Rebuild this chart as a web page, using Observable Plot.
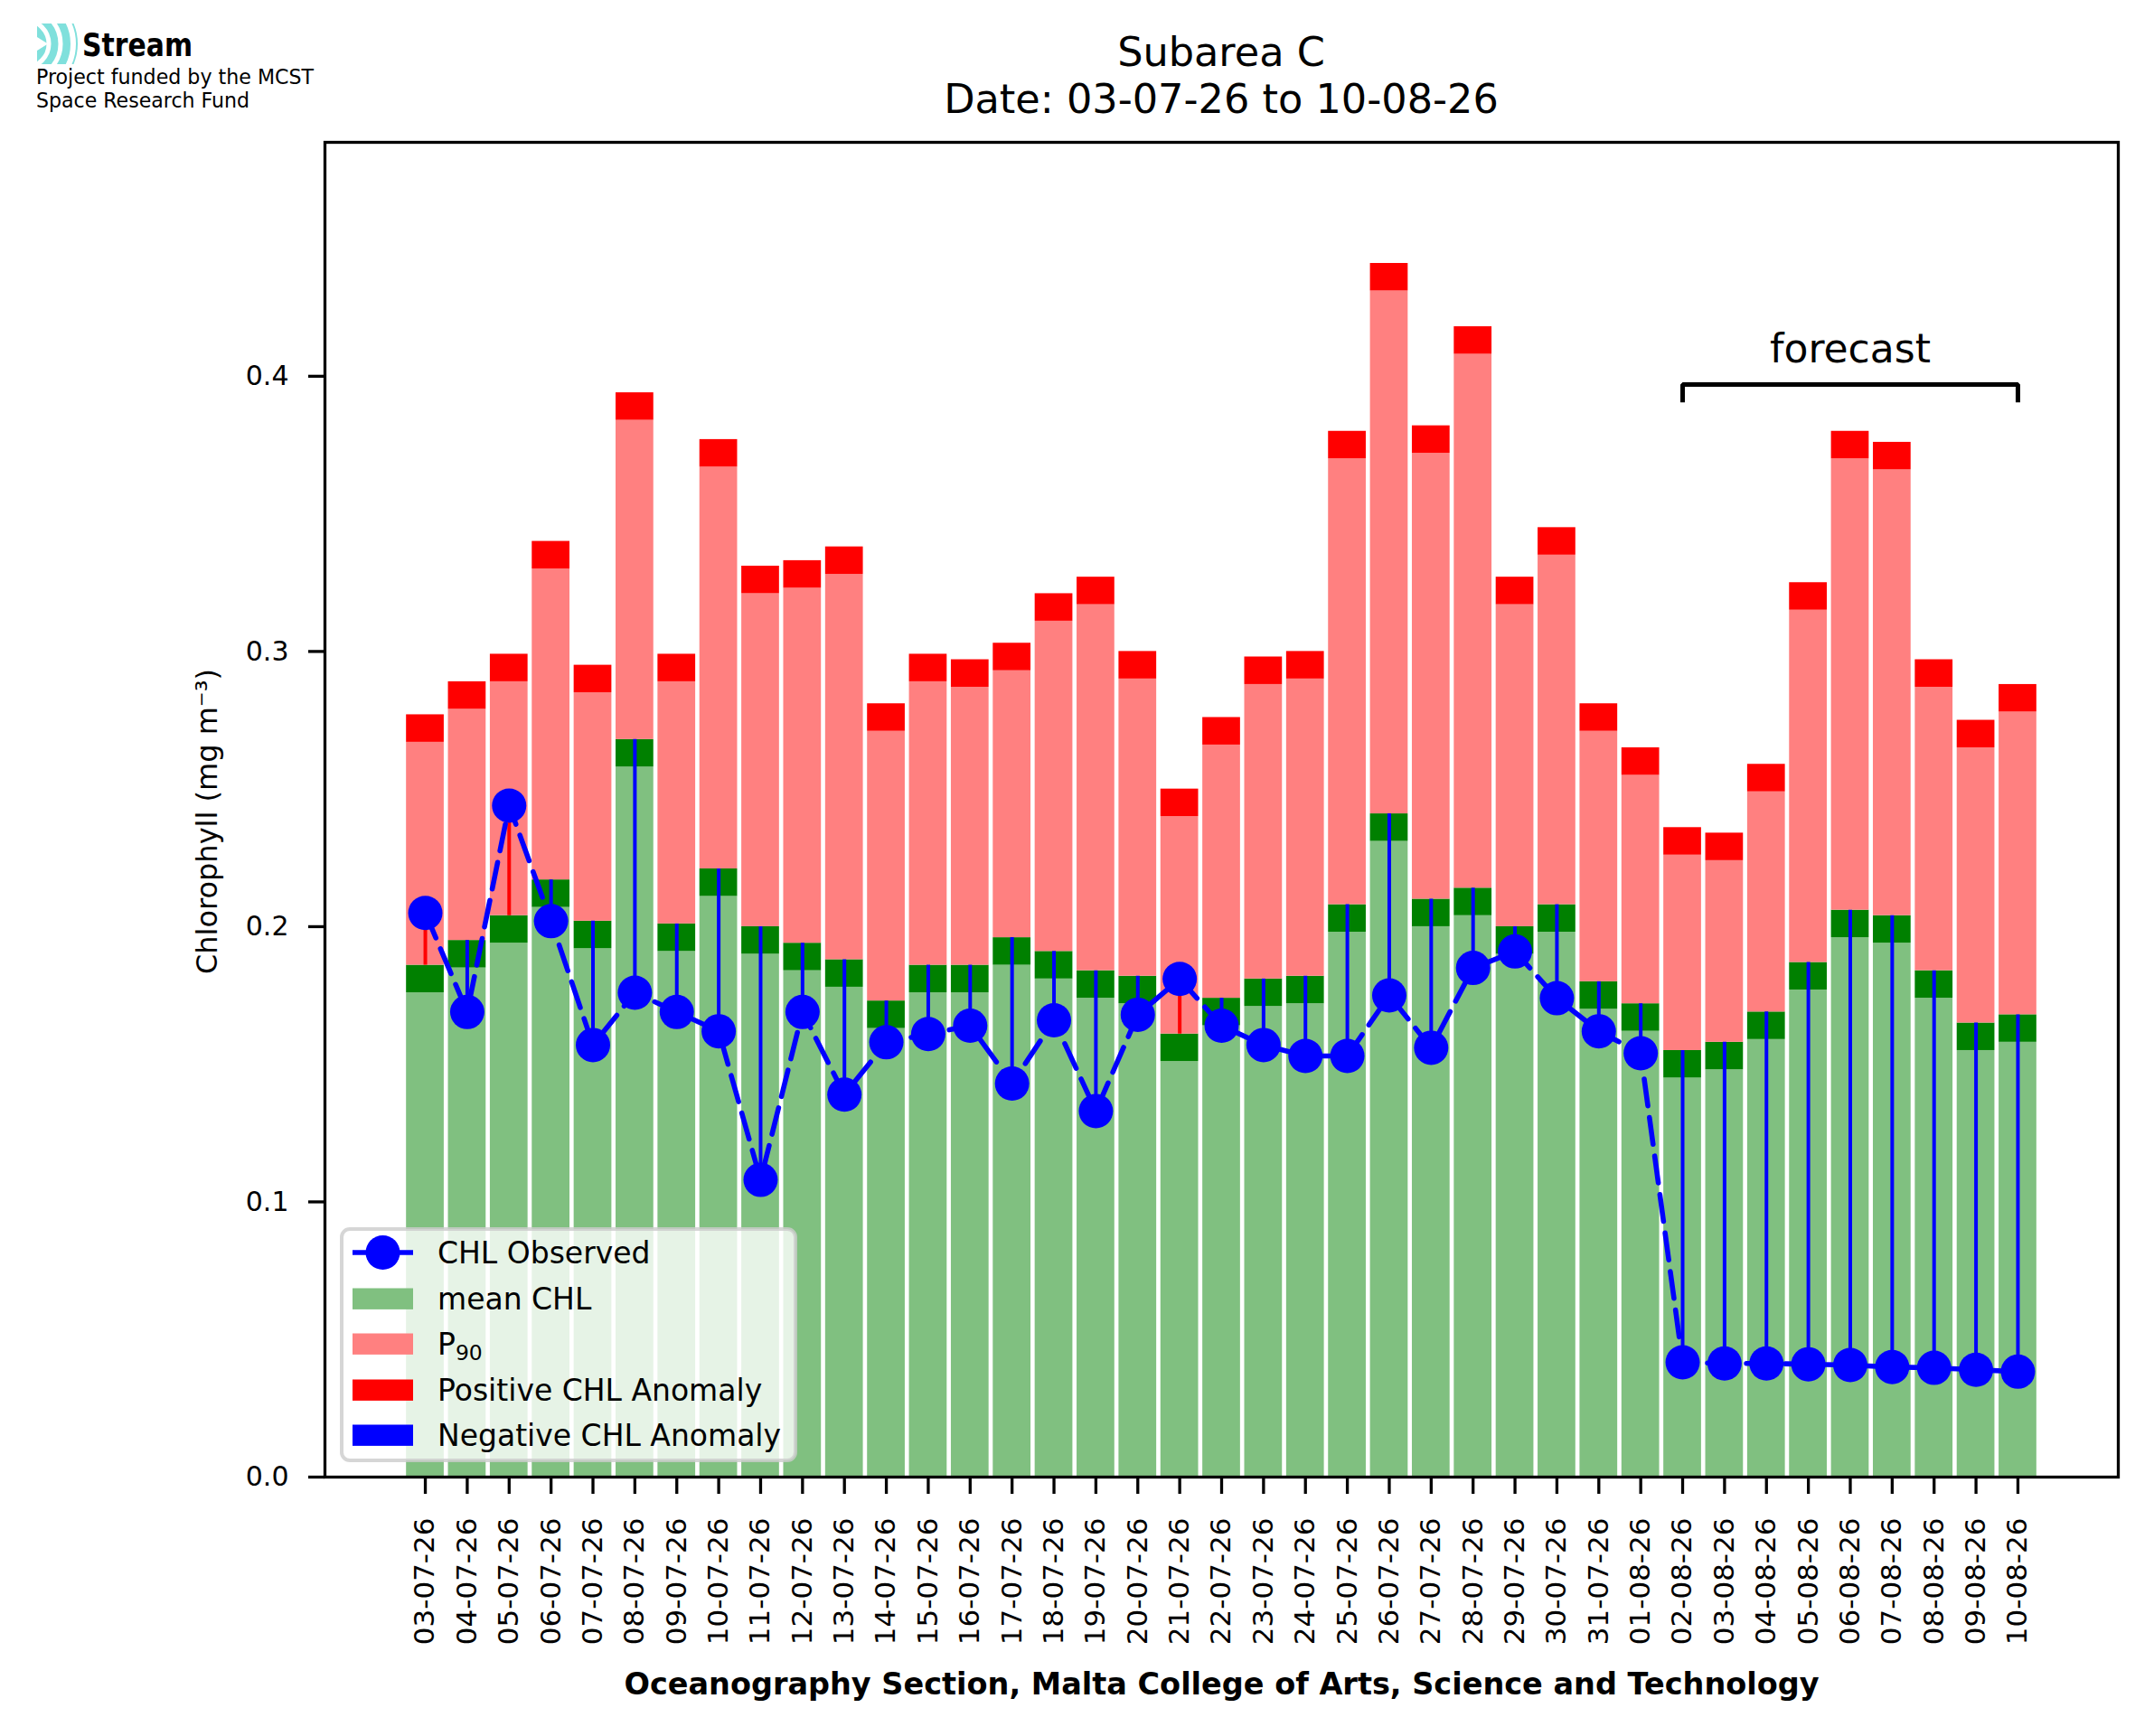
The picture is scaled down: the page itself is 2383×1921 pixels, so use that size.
<!DOCTYPE html>
<html>
<head>
<meta charset="utf-8">
<script src="https://cdn.jsdelivr.net/npm/d3@7"></script>
<script src="https://cdn.jsdelivr.net/npm/@observablehq/plot@0.6"></script>
<style>
html, body { margin: 0; padding: 0; background: #fff; }
#fig { position: relative; width: 2383px; height: 1921px; overflow: hidden; font-family: "DejaVu Sans", sans-serif; background: #fff; }
#header { display: block; }
#legend { position: absolute; left: 376px; top: 1358px; }
</style>
</head>
<body>
<div id="fig">
  <svg id="header" width="2383" height="140" xmlns="http://www.w3.org/2000/svg" font-family="DejaVu Sans">
    <defs>
      <clipPath id="iconclip"><rect x="41" y="26" width="46" height="45"/></clipPath>
    </defs>
    <g clip-path="url(#iconclip)">
      <circle cx="28" cy="48.5" r="58" fill="#80e0dc"/>
      <circle cx="28" cy="48.5" r="26" fill="none" stroke="#ffffff" stroke-width="5"/>
      <circle cx="28" cy="48.5" r="39" fill="none" stroke="#ffffff" stroke-width="5"/>
      <circle cx="28" cy="48.5" r="53" fill="none" stroke="#ffffff" stroke-width="6"/>
      <path d="M41,41 L53,48.5 L41,56 Z" fill="#ffffff"/>
    </g>
    <text x="91" y="62" font-size="35" font-weight="bold" textLength="122" lengthAdjust="spacingAndGlyphs">Stream</text>
    <text x="40" y="93" font-size="23" textLength="307" lengthAdjust="spacingAndGlyphs">Project funded by the MCST</text>
    <text x="40" y="119" font-size="23" textLength="236" lengthAdjust="spacingAndGlyphs">Space Research Fund</text>
    <text x="1351" y="73" font-size="44.6" text-anchor="middle">Subarea C</text>
    <text x="1351" y="125" font-size="44.6" text-anchor="middle">Date: 03-07-26 to 10-08-26</text>
  </svg>
  <div id="chart"></div>
  <svg id="legend" width="506" height="260" xmlns="http://www.w3.org/2000/svg" font-family="DejaVu Sans" font-size="33">
    <rect x="2" y="2" width="502" height="256" rx="9" ry="9" fill="#ffffff" fill-opacity="0.8" stroke="#cccccc" stroke-opacity="0.8" stroke-width="4"/>
    <line x1="14" x2="81" y1="28" y2="28" stroke="#0000ff" stroke-width="5.6"/>
    <circle cx="47.5" cy="28" r="19" fill="#0000ff"/>
    <text x="108" y="40">CHL Observed</text>
    <rect x="14" y="67.5" width="67" height="23.4" fill="#80c080"/>
    <text x="108" y="91">mean CHL</text>
    <rect x="14" y="117.5" width="67" height="23.4" fill="#ff8080"/>
    <text x="108" y="141">P<tspan font-size="23.5" dy="6">90</tspan></text>
    <rect x="14" y="168.5" width="67" height="23.4" fill="#ff0000"/>
    <text x="108" y="192">Positive CHL Anomaly</text>
    <rect x="14" y="218.5" width="67" height="23.4" fill="#0000ff"/>
    <text x="108" y="242">Negative CHL Anomaly</text>
  </svg>
</div>
<script>
const dates = ["03-07-26","04-07-26","05-07-26","06-07-26","07-07-26","08-07-26","09-07-26","10-07-26","11-07-26","12-07-26","13-07-26","14-07-26","15-07-26","16-07-26","17-07-26","18-07-26","19-07-26","20-07-26","21-07-26","22-07-26","23-07-26","24-07-26","25-07-26","26-07-26","27-07-26","28-07-26","29-07-26","30-07-26","31-07-26","01-08-26","02-08-26","03-08-26","04-08-26","05-08-26","06-08-26","07-08-26","08-08-26","09-08-26","10-08-26"];
// top of the P90 stack (red band top)
const p90Top = [0.277,0.289,0.299,0.340,0.295,0.394,0.299,0.377,0.331,0.333,0.338,0.281,0.299,0.297,0.303,0.321,0.327,0.300,0.250,0.276,0.298,0.300,0.380,0.441,0.382,0.418,0.327,0.345,0.281,0.265,0.236,0.234,0.259,0.325,0.380,0.376,0.297,0.275,0.288];
// mean CHL (top of dark green band)
const meanTop = [0.186,0.195,0.204,0.217,0.202,0.268,0.201,0.221,0.200,0.194,0.188,0.173,0.186,0.186,0.196,0.191,0.184,0.182,0.161,0.174,0.181,0.182,0.208,0.241,0.210,0.214,0.200,0.208,0.180,0.172,0.155,0.158,0.169,0.187,0.206,0.204,0.184,0.165,0.168];
// CHL observed
const observed = [0.205,0.169,0.244,0.202,0.157,0.176,0.169,0.162,0.108,0.169,0.139,0.158,0.161,0.164,0.143,0.166,0.133,0.168,0.181,0.164,0.157,0.153,0.153,0.175,0.156,0.185,0.191,0.174,0.162,0.154,0.0417,0.0413,0.0413,0.0410,0.0407,0.0400,0.0397,0.0390,0.0383];
const yTicks = [0.0, 0.1, 0.2, 0.3, 0.4];
const forecastRange = ["02-08-26", "10-08-26"];
const forecastLevel = [0.3905, 0.397];
const forecastLabelY = 0.405;

const band = 0.01;     // thickness of the mean / P90 marker bands
const halfW = 0.45;    // half bar width
const idx = d3.range(dates.length);
const rows = idx.map(i => ({i, date: dates[i], mean: meanTop[i], p90: p90Top[i], obs: observed[i]}));
const f0 = dates.indexOf(forecastRange[0]);
const f1 = dates.indexOf(forecastRange[1]);
const bracket = [
  {x: f0, y: forecastLevel[0]}, {x: f0, y: forecastLevel[1]},
  {x: f1, y: forecastLevel[1]}, {x: f1, y: forecastLevel[0]}
];

const chart = Plot.plot({
  width: 2383,
  height: 1781,
  marginLeft: 359,
  marginRight: 40,
  marginTop: 17,
  marginBottom: 287,
  style: {fontFamily: "DejaVu Sans", fontSize: "30px", color: "black", background: "white", overflow: "visible"},
  x: {domain: [-2.395, 40.395], axis: null},
  y: {domain: [0, 0.485], axis: null},
  marks: [
    Plot.rect(rows, {x1: d => d.i - halfW, x2: d => d.i + halfW, y1: 0, y2: d => d.mean - band, fill: "#80c080"}),
    Plot.rect(rows, {x1: d => d.i - halfW, x2: d => d.i + halfW, y1: d => d.mean - band, y2: "mean", fill: "#008000"}),
    Plot.rect(rows, {x1: d => d.i - halfW, x2: d => d.i + halfW, y1: "mean", y2: d => d.p90 - band, fill: "#ff8080"}),
    Plot.rect(rows, {x1: d => d.i - halfW, x2: d => d.i + halfW, y1: d => d.p90 - band, y2: "p90", fill: "#ff0000"}),
    Plot.ruleX(rows, {x: "i", y1: "mean", y2: "obs", stroke: d => d.obs >= d.mean ? "#ff0000" : "#0000ff", strokeWidth: 4}),
    Plot.line(rows, {x: "i", y: "obs", stroke: "#0000ff", strokeWidth: 5.6, strokeDasharray: "30,13"}),
    Plot.dot(rows, {x: "i", y: "obs", r: 19, fill: "#0000ff", stroke: "none"}),
    Plot.line(bracket, {x: "x", y: "y", stroke: "black", strokeWidth: 5, strokeLinejoin: "miter", strokeLinecap: "butt"}),
    Plot.text(["forecast"], {x: (f0 + f1) / 2, y: forecastLabelY, text: d => d, fontSize: 44, lineAnchor: "bottom", fill: "black"}),
    Plot.frame({stroke: "black", strokeWidth: 3.3}),
    Plot.axisX({ticks: idx, tickFormat: i => dates[i], tickRotate: -90, tickSize: 19, tickPadding: 26, fontSize: 31, strokeWidth: 3.3, label: null}),
    Plot.axisY({ticks: yTicks, tickFormat: d3.format(".1f"), tickSize: 18, tickPadding: 22, fontSize: 30, strokeWidth: 3.3, label: null}),
    Plot.text(["Chlorophyll (mg m⁻³)"], {frameAnchor: "left", dx: -130, dy: 13, rotate: -90, textAnchor: "middle", text: d => d, fontSize: 32, fill: "black"}),
    Plot.text(["Oceanography Section, Malta College of Arts, Science and Technology"], {frameAnchor: "bottom", dy: 240, lineAnchor: "bottom", textAnchor: "middle", text: d => d, fontSize: 33.5, fontWeight: "bold", fill: "black"})
  ]
});
document.getElementById("chart").appendChild(chart);
</script>
</body>
</html>
